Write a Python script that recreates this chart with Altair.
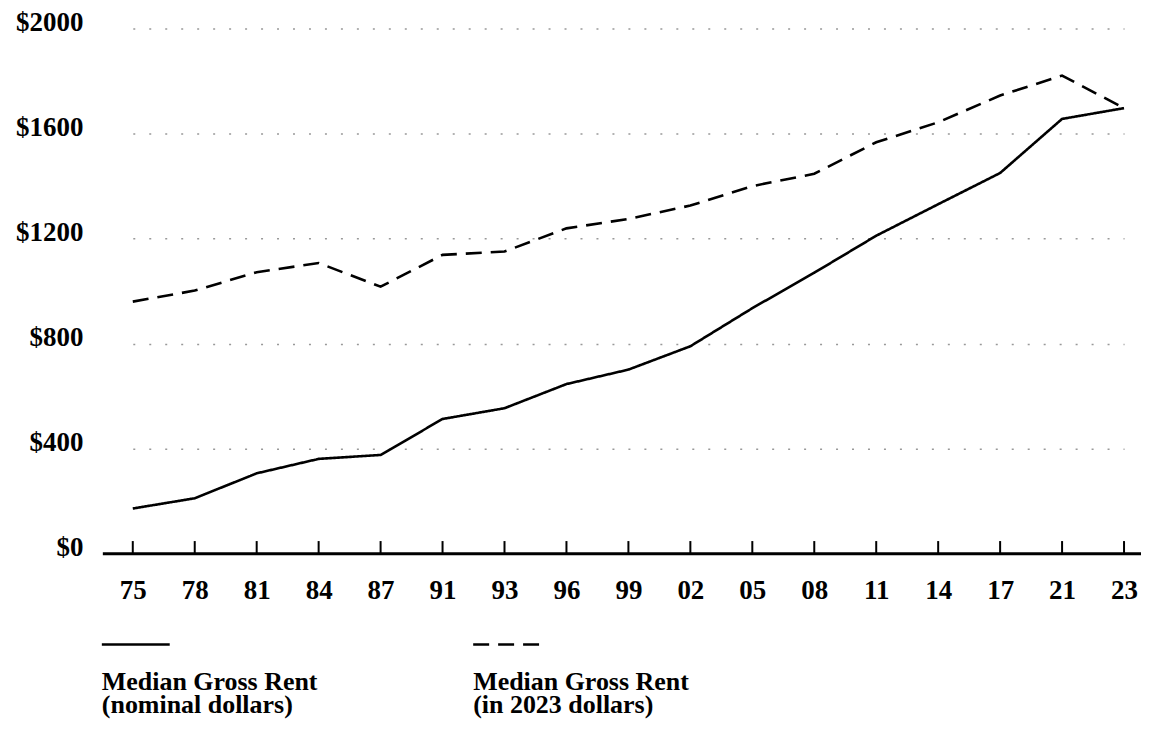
import altair as alt
import pandas as pd

years = ["75", "78", "81", "84", "87", "91", "93", "96", "99", "02",
         "05", "08", "11", "14", "17", "21", "23"]
nominal = [172, 211, 306, 361, 376, 513, 554, 646, 701, 790,
           935, 1070, 1211, 1331, 1450, 1656, 1697]
real_2023 = [960, 1002, 1072, 1107, 1017, 1138, 1151, 1239, 1275, 1326,
             1400, 1447, 1567, 1643, 1745, 1821, 1697]
series_names = ["Nominal", "2023 dollars"]
legend_lines = [["Median Gross Rent", "(nominal dollars)"],
                ["Median Gross Rent", "(in 2023 dollars)"]]
y_ticks = [0, 400, 800, 1200, 1600, 2000]

FONT = "Liberation Serif"
W, H = 1040, 526

rows = []
for i, yr in enumerate(years):
    rows.append({"year": yr, "series": series_names[0], "rent": nominal[i]})
    rows.append({"year": yr, "series": series_names[1], "rent": real_2023[i]})
df = pd.DataFrame(rows)
df_years = pd.DataFrame({"year": years})
one = pd.DataFrame({"k": [0]})

x_scale = alt.Scale(type="point", domain=years, range=[30, 1023], padding=0)
y_scale = alt.Scale(domain=[0, 2000], nice=False)

lines = alt.Chart(df).mark_line(color="black", strokeWidth=2.6).encode(
    x=alt.X("year:O", scale=x_scale, sort=None,
            axis=alt.Axis(title=None, labelAngle=0, ticks=False, domain=False,
                          labelFont=FONT, labelFontSize=27, labelFontWeight="bold",
                          labelColor="black", labelPadding=24, grid=False)),
    y=alt.Y("rent:Q", scale=y_scale,
            axis=alt.Axis(title=None, values=y_ticks, labelExpr="'$' + datum.value",
                          ticks=False, domain=False, grid=True,
                          gridDash=[2, 14], gridColor="#999999", gridWidth=1.5,
                          labelFont=FONT, labelFontSize=27, labelFontWeight="bold",
                          labelColor="black", labelPadding=20,
                          labelBaseline="alphabetic", labelOffset=2,
                          minExtent=95, maxExtent=95)),
    strokeDash=alt.StrokeDash("series:N",
                              scale=alt.Scale(domain=series_names, range=[[1, 0], [16, 9]]),
                              legend=None),
    detail="series:N",
)

ticks = alt.Chart(df_years).mark_rule(color="black", strokeWidth=2).encode(
    x=alt.X("year:O", scale=x_scale, sort=None),
    y=alt.datum(0),
    y2=alt.datum(48),
)

baseline = alt.Chart(one).mark_rule(color="black", strokeWidth=3).encode(
    x=alt.value(0), x2=alt.value(W), y=alt.datum(0)
)

leg_solid = alt.Chart(one).mark_rule(color="black", strokeWidth=2.6).encode(
    x=alt.value(-1), x2=alt.value(67), y=alt.value(H + 91)
)
leg_dash = alt.Chart(one).mark_rule(color="black", strokeWidth=2.6,
                                     strokeDash=[16, 9]).encode(
    x=alt.value(371), x2=alt.value(440), y=alt.value(H + 91)
)

def legend_text(txt_lines, x, y):
    return alt.Chart(one).mark_text(
        align="left", baseline="alphabetic", font=FONT, fontSize=26,
        fontWeight="bold", color="black", lineHeight=23, text=txt_lines
    ).encode(x=alt.value(x), y=alt.value(y))

chart = alt.layer(
    lines, ticks, baseline, leg_solid, leg_dash,
    legend_text(legend_lines[0], -1, H + 137),
    legend_text(legend_lines[1], 371, H + 137),
).properties(
    width=W, height=H, padding=0, background="white"
).configure_view(stroke="transparent", strokeWidth=0)

chart.save("out.html", embed_options={"renderer": "svg", "actions": False})
